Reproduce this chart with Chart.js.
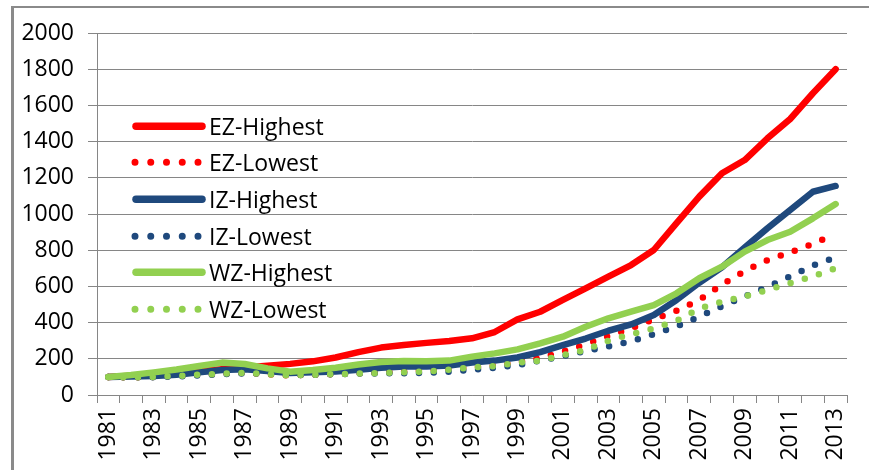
<!DOCTYPE html>
<html>
<head>
<meta charset="utf-8">
<script src="https://cdn.jsdelivr.net/npm/chart.js@4/dist/chart.umd.min.js"></script>
<style>
  html, body { margin: 0; padding: 0; background: #fff; }
  #wrap { position: relative; width: 869px; height: 470px; overflow: hidden; }
  #frame { position: absolute; left: 11px; top: 6px; width: 900px; height: 500px;
           border-left: 3px solid #8a8a8a; border-top: 2px solid #8a8a8a; }
  #c { position: absolute; left: 0; top: 0; }
  #legend { position: absolute; left: 0; top: 0; font-family: "Open Sans", sans-serif; font-size: 23px; color: #000; }
  .row { position: absolute; left: 128px; height: 36.6px; line-height: 36.6px; white-space: nowrap; }
  .row svg { position: absolute; left: 0; top: 0; }
  .row span { position: absolute; left: 81px; top: 0; }
</style>
</head>
<body>
<div id="wrap">
  <div id="frame"></div>
  <canvas id="c" width="869" height="470"></canvas>
  <div id="legend"></div>
</div>
<script>
const years = ["1981","1982","1983","1984","1985","1986","1987","1988","1989","1990","1991","1992","1993","1994","1995","1996","1997","1998","1999","2000","2001","2002","2003","2004","2005","2006","2007","2008","2009","2010","2011","2012","2013"];
const ezHighest = [100,107,114,122,132,142,152,162,172,186,207,237,262,276,288,298,313,348,418,460,525,589,654,718,801,950,1096,1225,1298,1418,1525,1667,1800];
const ezLowest  = [100,98,100,105,112,118,122,115,108,112,115,120,125,130,138,145,152,162,180,205,240,280,325,368,418,466,525,611,685,745,788,835,890];
const izHighest = [100,102,105,112,125,138,142,132,122,125,130,140,150,158,158,163,180,190,207,237,275,312,355,390,442,525,620,706,815,921,1022,1123,1155];
const izLowest  = [100,98,98,102,108,115,120,118,110,112,115,118,120,120,122,128,140,150,165,190,215,243,268,297,336,378,433,490,545,597,655,716,760];
const wzHighest = [100,110,125,141,160,179,171,147,129,138,151,168,182,188,186,190,212,230,252,285,322,377,424,460,497,562,645,709,792,856,902,976,1055];
const wzLowest  = [100,98,100,105,112,118,122,115,108,112,115,118,122,125,130,140,153,160,178,190,220,248,300,336,368,410,478,515,545,580,618,655,700];

const seriesNames  = ["EZ-Highest","EZ-Lowest","IZ-Highest","IZ-Lowest","WZ-Highest","WZ-Lowest"];
const seriesValues = [ezHighest, ezLowest, izHighest, izLowest, wzHighest, wzLowest];
const seriesColors = ["#FF0000","#FF0000","#1F497D","#1F497D","#92D050","#92D050"];
const seriesDotted = [false, true, false, true, false, true];

const yMin = 0, yMax = 2000, yStep = 200;

const datasets = seriesNames.map((name, i) => ({
  label: name,
  data: seriesValues[i],
  borderColor: seriesColors[i],
  backgroundColor: seriesColors[i],
  borderWidth: 6.5,
  borderDash: seriesDotted[i] ? [0, 14.8] : [],
  borderCapStyle: 'round',
  borderJoinStyle: 'round',
  pointRadius: 0,
  pointHoverRadius: 0,
  tension: 0,
  fill: false,
  order: seriesNames.length - i
}));

const font = { family: '"Open Sans", sans-serif', size: 23 };
const gridColor = '#868686';

new Chart(document.getElementById('c'), {
  type: 'line',
  data: { labels: years, datasets },
  options: {
    responsive: false,
    animation: false,
    devicePixelRatio: 1,
    layout: { padding: { left: 0, right: 22, top: 33, bottom: 0 } },
    plugins: { legend: { display: false }, tooltip: { enabled: false } },
    scales: {
      x: {
        type: 'category',
        offset: true,
        grid: { offset: true, drawOnChartArea: false, drawTicks: true, tickLength: 8, color: gridColor, lineWidth: 1 },
        border: { display: true, color: gridColor, width: 1 },
        ticks: {
          autoSkip: false, maxRotation: 90, minRotation: 90, padding: 5,
          color: '#000', font,
          callback: function(v, i) { return i % 2 === 0 ? this.getLabelForValue(v) : ''; }
        },
        afterFit: s => { s.height = 75; }
      },
      y: {
        min: yMin, max: yMax,
        grid: { color: gridColor, lineWidth: 1, tickLength: 9, drawTicks: true },
        border: { display: true, color: gridColor, width: 1 },
        ticks: { stepSize: yStep, color: '#000', font, padding: 14, callback: v => String(v) },
        afterFit: s => { s.width = 97; }
      }
    }
  }
});

// legend (HTML text)
const legend = document.getElementById('legend');
const rowCenters0 = 126, rowGap = 36.6;
seriesNames.forEach((name, i) => {
  const row = document.createElement('div');
  row.className = 'row';
  row.style.top = (rowCenters0 + i * rowGap - rowGap / 2) + 'px';
  const c = seriesColors[i];
  const sw = seriesDotted[i]
    ? `<line x1="7" y1="18.3" x2="71" y2="18.3" stroke="${c}" stroke-width="7" stroke-linecap="round" stroke-dasharray="0 15.75"/>`
    : `<line x1="8" y1="18.3" x2="74" y2="18.3" stroke="${c}" stroke-width="7.5" stroke-linecap="round"/>`;
  row.innerHTML = `<svg width="80" height="37">${sw}</svg><span>${name}</span>`;
  legend.appendChild(row);
});
</script>
</body>
</html>
